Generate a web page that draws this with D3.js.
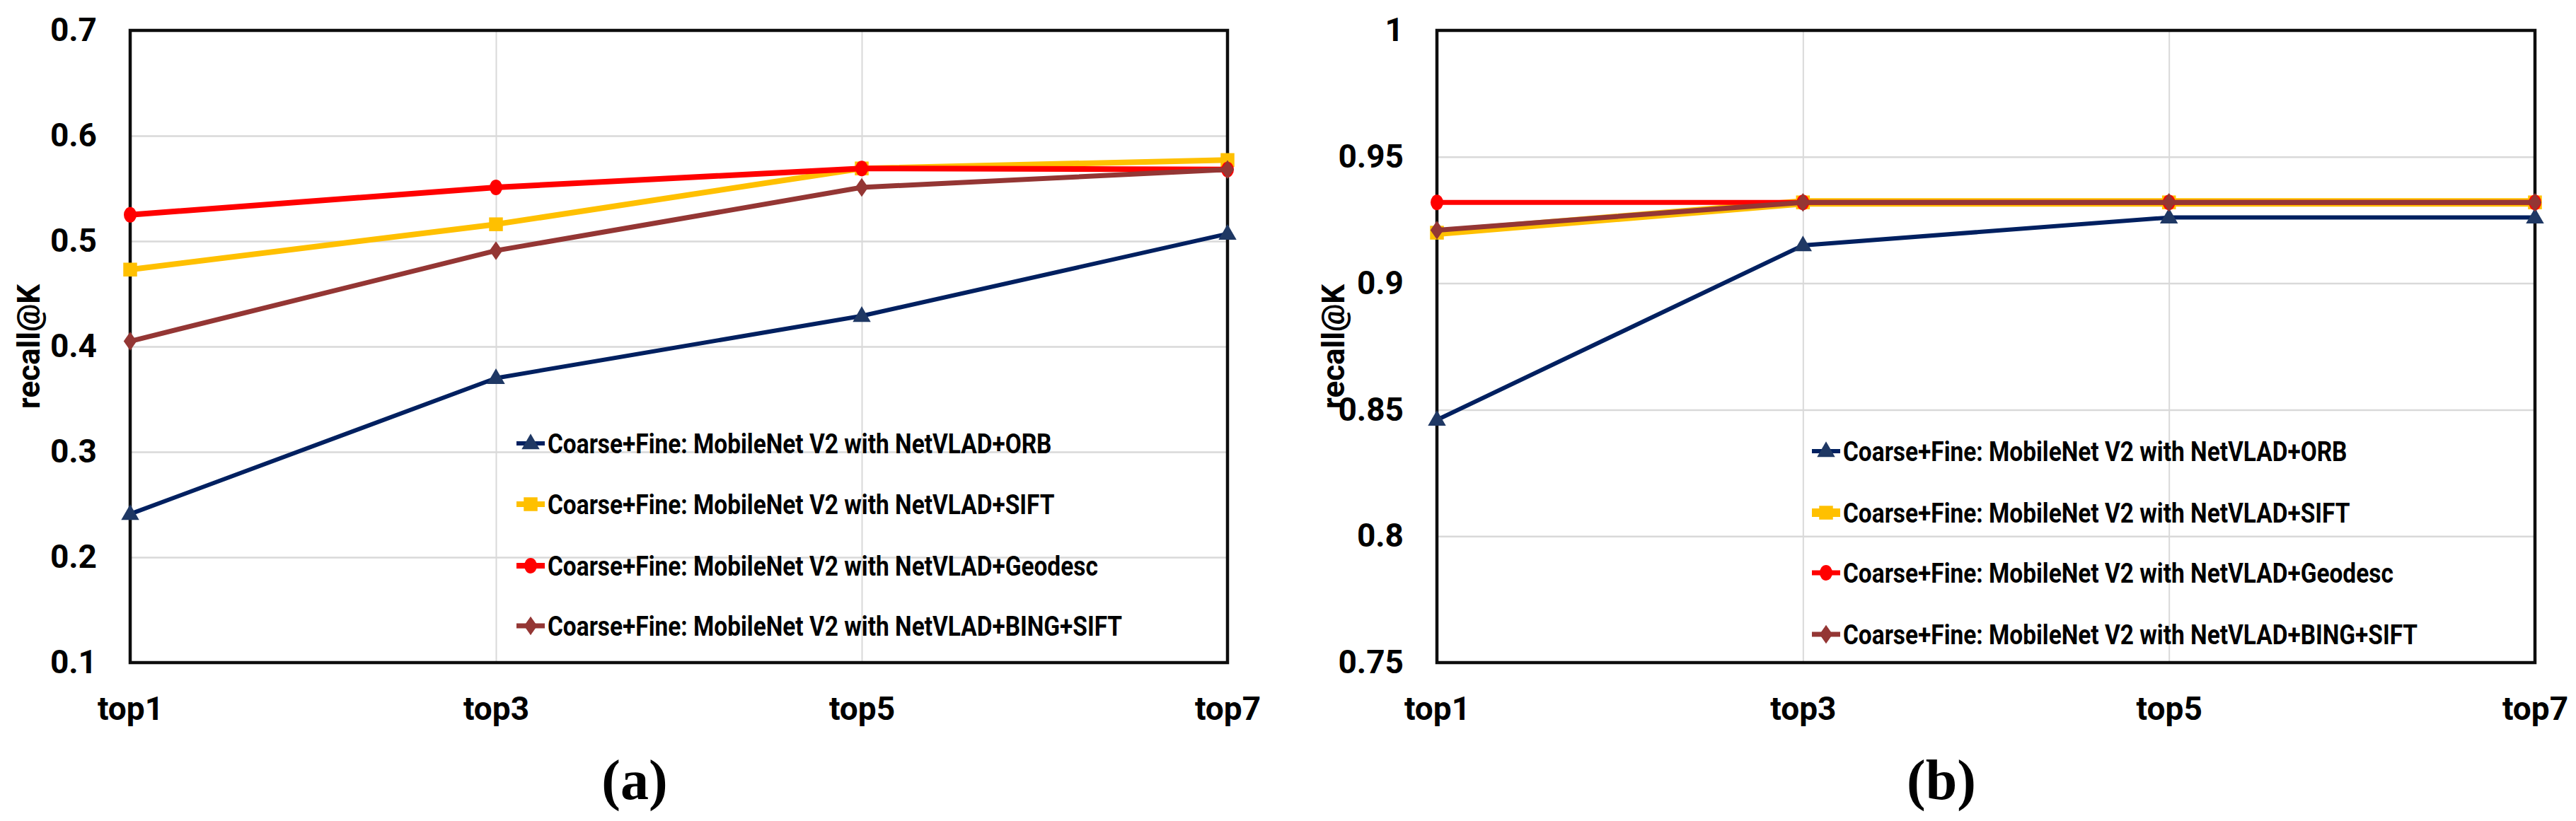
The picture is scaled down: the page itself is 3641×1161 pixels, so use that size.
<!DOCTYPE html>
<html>
<head>
<meta charset="utf-8">
<script src="https://cdn.jsdelivr.net/npm/d3@7"></script>
<style>
  body { margin: 0; background: #fff; }
  text { font-family: Roboto, 'Liberation Sans', sans-serif; font-weight: bold; }
</style>
</head>
<body>
<div id="chart"></div>
<script>
// categories on the x axis
const categories = ['top1', 'top3', 'top5', 'top7'];

const seriesNames = [
  'Coarse+Fine: MobileNet V2 with NetVLAD+ORB',
  'Coarse+Fine: MobileNet V2 with NetVLAD+SIFT',
  'Coarse+Fine: MobileNet V2 with NetVLAD+Geodesc',
  'Coarse+Fine: MobileNet V2 with NetVLAD+BING+SIFT'
];

// panel (a)
const orbA     = [0.241, 0.370, 0.429, 0.507];
const siftA    = [0.473, 0.516, 0.569, 0.577];
const geodescA = [0.525, 0.551, 0.569, 0.568];
const bingA    = [0.405, 0.491, 0.551, 0.568];
const ticksA   = [0.1, 0.2, 0.3, 0.4, 0.5, 0.6, 0.7];

// panel (b)
const orbB     = [0.846, 0.915, 0.926, 0.926];
const siftB    = [0.920, 0.932, 0.932, 0.932];
const geodescB = [0.932, 0.932, 0.932, 0.932];
const bingB    = [0.921, 0.932, 0.932, 0.932];
const ticksB   = [0.75, 0.8, 0.85, 0.9, 0.95, 1];

const W = 3641, H = 1161;
const plotTop = 43, plotBottom = 937;

const colors  = ['#002060', '#FFC000', '#FF0000', '#943634'];
const markFill = ['#1F3864', '#FFC000', '#FF0000', '#943634'];
const shapes  = ['triangle', 'square', 'circle', 'diamond'];

const svg = d3.select('#chart').append('svg')
  .attr('width', W).attr('height', H)
  .style('background', '#fff');

function marker(sel, shape, i) {
  if (shape === 'triangle') {
    sel.append('path').attr('d', d3.symbol(d3.symbolTriangle, 280)()).attr('fill', markFill[i])
      .attr('transform', 'translate(0,1)');
  } else if (shape === 'square') {
    sel.append('path').attr('d', d3.symbol(d3.symbolSquare, 380)()).attr('fill', markFill[i]);
  } else if (shape === 'circle') {
    sel.append('ellipse').attr('rx', 9).attr('ry', 11).attr('fill', markFill[i]);
  } else {
    sel.append('path').attr('d', d3.symbol(d3.symbolDiamond2, 340)()).attr('fill', markFill[i])
      .attr('transform', 'scale(0.8,1.15)');
  }
}

function panel(opt) {
  const x = d3.scalePoint().domain(categories).range([opt.left, opt.right]);
  const y = d3.scaleLinear().domain(opt.domain).range([plotBottom, plotTop]);
  const g = svg.append('g');

  // horizontal gridlines + y tick labels
  const ya = g.append('g').attr('transform', `translate(${opt.left},0)`)
    .call(d3.axisLeft(y).tickValues(opt.ticks).tickFormat(d => String(d))
      .tickSize(-(opt.right - opt.left)).tickPadding(47));
  ya.select('.domain').remove();
  ya.selectAll('line').attr('stroke', '#d9d9d9').attr('stroke-width', 2.5);
  ya.selectAll('text').attr('font-size', 46).attr('fill', '#000').style('font-family', 'Roboto');

  // vertical gridlines + x labels
  const xa = g.append('g').attr('transform', `translate(0,${plotBottom})`)
    .call(d3.axisBottom(x).tickSize(-(plotBottom - plotTop)).tickPadding(48));
  xa.select('.domain').remove();
  xa.selectAll('line').attr('stroke', '#d9d9d9').attr('stroke-width', 2);
  xa.selectAll('text').attr('font-size', 46).attr('fill', '#000').style('font-family', 'Roboto');

  // plot frame
  g.append('rect')
    .attr('x', opt.left).attr('y', plotTop)
    .attr('width', opt.right - opt.left).attr('height', plotBottom - plotTop)
    .attr('fill', 'none').attr('stroke', '#0d0d0d').attr('stroke-width', 4.5);

  // y title
  g.append('text')
    .attr('transform', `translate(${opt.titleX},${(plotTop + plotBottom) / 2}) rotate(-90)`)
    .attr('text-anchor', 'middle')
    .attr('font-size', 44)
    .text('recall@K');

  const line = d3.line().x((d, i) => x(categories[i])).y(d => y(d));

  opt.series.forEach((vals, i) => {
    const s = g.append('g');
    s.append('path').datum(vals)
      .attr('d', line)
      .attr('fill', 'none')
      .attr('stroke', colors[i])
      .attr('stroke-width', opt.widths[i])
      .attr('stroke-linejoin', 'round');
    s.selectAll('.pt').data(vals).enter().append('g')
      .attr('transform', (d, j) => `translate(${x(categories[j])},${y(d)})`)
      .each(function () { marker(d3.select(this), shapes[i], i); });
  });

  // legend
  seriesNames.forEach((name, i) => {
    const lg = g.append('g').attr('transform', `translate(${opt.legX},${opt.legY[i]})`);
    lg.append('line').attr('x1', 0).attr('x2', 40)
      .attr('stroke', colors[i]).attr('stroke-width', opt.widths[i]);
    const m = lg.append('g').attr('transform', 'translate(20,0)');
    marker(m, shapes[i], i);
    lg.append('text').attr('transform', 'translate(44,0) scale(0.88,1)').attr('dy', '0.36em')
      .attr('font-size', 38).text(name);
  });

  // caption
  svg.append('text')
    .attr('x', opt.capX).attr('y', 1130)
    .attr('text-anchor', 'middle')
    .attr('font-size', 80)
    .style('font-family', "'Liberation Serif','DejaVu Serif',serif")
    .style('font-weight', 'bold')
    .text(opt.caption);
}

panel({
  left: 184, right: 1735, domain: [0.1, 0.7], ticks: ticksA,
  series: [orbA, siftA, geodescA, bingA],
  widths: [6, 8, 8, 7],
  titleX: 56, legX: 730, legY: [627, 713, 800, 885],
  capX: 897, caption: '(a)'
});

panel({
  left: 2031, right: 3583, domain: [0.75, 1], ticks: ticksB,
  series: [orbB, siftB, geodescB, bingB],
  widths: [6, 12, 7, 7],
  titleX: 1900, legX: 2561, legY: [638, 725, 810, 897],
  capX: 2744, caption: '(b)'
});
</script>
</body>
</html>
